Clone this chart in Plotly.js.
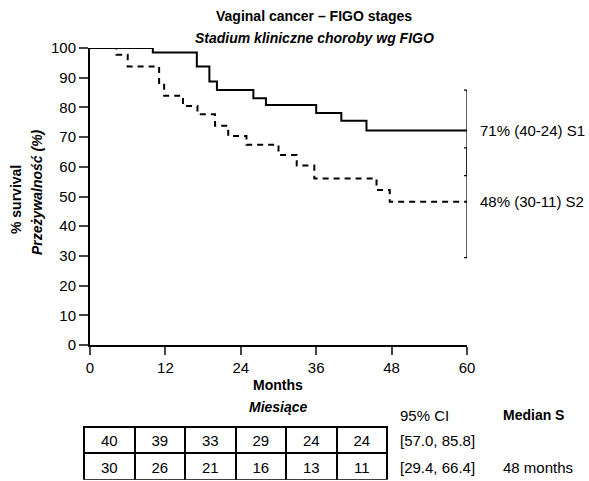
<!DOCTYPE html>
<html>
<head>
<meta charset="utf-8">
<script src="https://cdn.plot.ly/plotly-3.0.1.min.js"></script>
<style>html,body{margin:0;padding:0;background:#fff;}#chart{width:589px;height:481px;}</style>
</head>
<body>
<div id="chart"></div>
<script>
// ---- data ----
const s1Months = [0, 10, 17, 19, 20.2, 26, 28, 36, 40, 44, 60];
const s1Survival = [100, 98.5, 93.8, 88.7, 85.9, 83.1, 80.8, 78.1, 75.5, 72.2, 72.2];
const s2Months = [0, 4.2, 6, 11, 11.8, 14.8, 17.1, 19.9, 22, 24.9, 30, 32.9, 35.7, 45.6, 47.7, 60];
const s2Survival = [100, 97.7, 93.8, 87.6, 83.9, 80.5, 77.7, 73.8, 70.4, 67.4, 64, 60.4, 56.1, 52.2, 48.2, 48.2];
const ciLow = [57.0, 29.4];
const ciHigh = [85.8, 66.4];
const ciLabels = ['[57.0, 85.8]', '[29.4, 66.4]'];
const endLabels = ['71% (40-24) S1', '48% (30-11) S2'];
const medianLabels = ['', '48 months'];
const atRisk1 = [40, 39, 33, 29, 24, 24];
const atRisk2 = [30, 26, 21, 16, 13, 11];
const xTicks = [0, 12, 24, 36, 48, 60];
const yTicks = [0, 10, 20, 30, 40, 50, 60, 70, 80, 90, 100];

// ---- layout helpers ----
const W = 589, H = 481;
const M = {l: 80, r: 0, t: 48, b: 0};
const pw = W - M.l - M.r, ph = H - M.t - M.b;
const xp = px => (px - M.l) / pw;
const yp = py => (H - M.b - py) / ph;

const SANS = '"Liberation Sans", Arial, sans-serif';
const f = (size) => ({family: SANS, size: size, color: '#000'});

const lastS1 = s1Survival[s1Survival.length - 1];
const lastS2 = s2Survival[s2Survival.length - 1];
const ends = [lastS1, lastS2];

const traces = [
  {x: s1Months, y: s1Survival, type: 'scatter', mode: 'lines', line: {shape: 'hv', color: '#000', width: 2}, cliponaxis: false, hoverinfo: 'skip'},
  {x: s2Months, y: s2Survival, type: 'scatter', mode: 'lines', line: {shape: 'hv', color: '#000', width: 2, dash: '6px,5px'}, cliponaxis: false, hoverinfo: 'skip'},
  {x: [60, 60], y: ends, type: 'scatter', mode: 'markers', marker: {size: 1, color: 'rgba(0,0,0,0)'},
   error_y: {type: 'data', symmetric: false,
     array: ciHigh.map((h, i) => h - ends[i]),
     arrayminus: ciLow.map((l, i) => ends[i] - l),
     color: '#000', thickness: 1.2, width: 3}, cliponaxis: false, hoverinfo: 'skip'},
  {type: 'table', domain: {x: [xp(84), xp(387)], y: [yp(480), yp(426.7)]},
   columnwidth: atRisk1.map(() => 1),
   header: {values: atRisk1.map(v => [String(v)]), height: 26.7, align: 'center',
     line: {color: '#000', width: 2}, fill: {color: '#fff'}, font: f(15)},
   cells: {values: atRisk2.map(v => [String(v)]), height: 26.7, align: 'center',
     line: {color: '#000', width: 2}, fill: {color: '#fff'}, font: f(15)}}
];

const annotations = [
  {text: '<b>Vaginal cancer – FIGO stages</b>', x: xp(314), y: yp(16), font: f(14)},
  {text: '<b><i>Stadium kliniczne choroby wg FIGO</i></b>', x: xp(314), y: yp(38), font: f(14)},
  {text: '<b>% survival</b>', x: xp(16), y: yp(200), textangle: -90, font: f(14)},
  {text: '<b><i>Przeżywalność (%)</i></b>', x: xp(37), y: yp(192), textangle: -90, font: f(14)},
  {text: '<b>Months</b>', x: xp(278), y: yp(385), font: f(14)},
  {text: '<b><i>Miesiące</i></b>', x: xp(278), y: yp(407), font: f(14)},
  {text: '95% CI', x: xp(398), y: yp(415), xanchor: 'left', font: f(15)},
  {text: '<b>Median S</b>', x: xp(501), y: yp(415), xanchor: 'left', font: f(14)},
  {text: ciLabels[0], x: xp(398), y: yp(440), xanchor: 'left', font: f(15)},
  {text: ciLabels[1], x: xp(398), y: yp(467), xanchor: 'left', font: f(15)},
  {text: medianLabels[1], x: xp(501), y: yp(467), xanchor: 'left', font: f(15)},
  {text: endLabels[0], x: 60, xref: 'x', y: lastS1, yref: 'y', xanchor: 'left', xshift: 11, font: f(15)},
  {text: endLabels[1], x: 60, xref: 'x', y: lastS2, yref: 'y', xanchor: 'left', xshift: 11, font: f(15)}
].map(a => Object.assign({xref: 'paper', yref: 'paper', showarrow: false, xanchor: 'center', yanchor: 'middle'}, a));

const layout = {
  width: W, height: H, margin: M, showlegend: false,
  paper_bgcolor: '#fff', plot_bgcolor: '#fff',
  xaxis: {domain: [xp(90), xp(467)], range: [0, 60], tickvals: xTicks, ticks: 'outside', ticklen: 8, tickwidth: 2,
    showline: true, linewidth: 2, linecolor: '#000', showgrid: false, zeroline: false,
    tickfont: f(15), fixedrange: true},
  yaxis: {domain: [yp(345), yp(48)], range: [0, 100], tickvals: yTicks, ticks: 'outside', ticklen: 9, tickwidth: 2,
    showline: true, linewidth: 2, linecolor: '#000', showgrid: false, zeroline: false,
    tickfont: f(15), fixedrange: true},
  annotations: annotations
};

Plotly.newPlot('chart', traces, layout, {displayModeBar: false, staticPlot: true});
</script>
</body>
</html>
